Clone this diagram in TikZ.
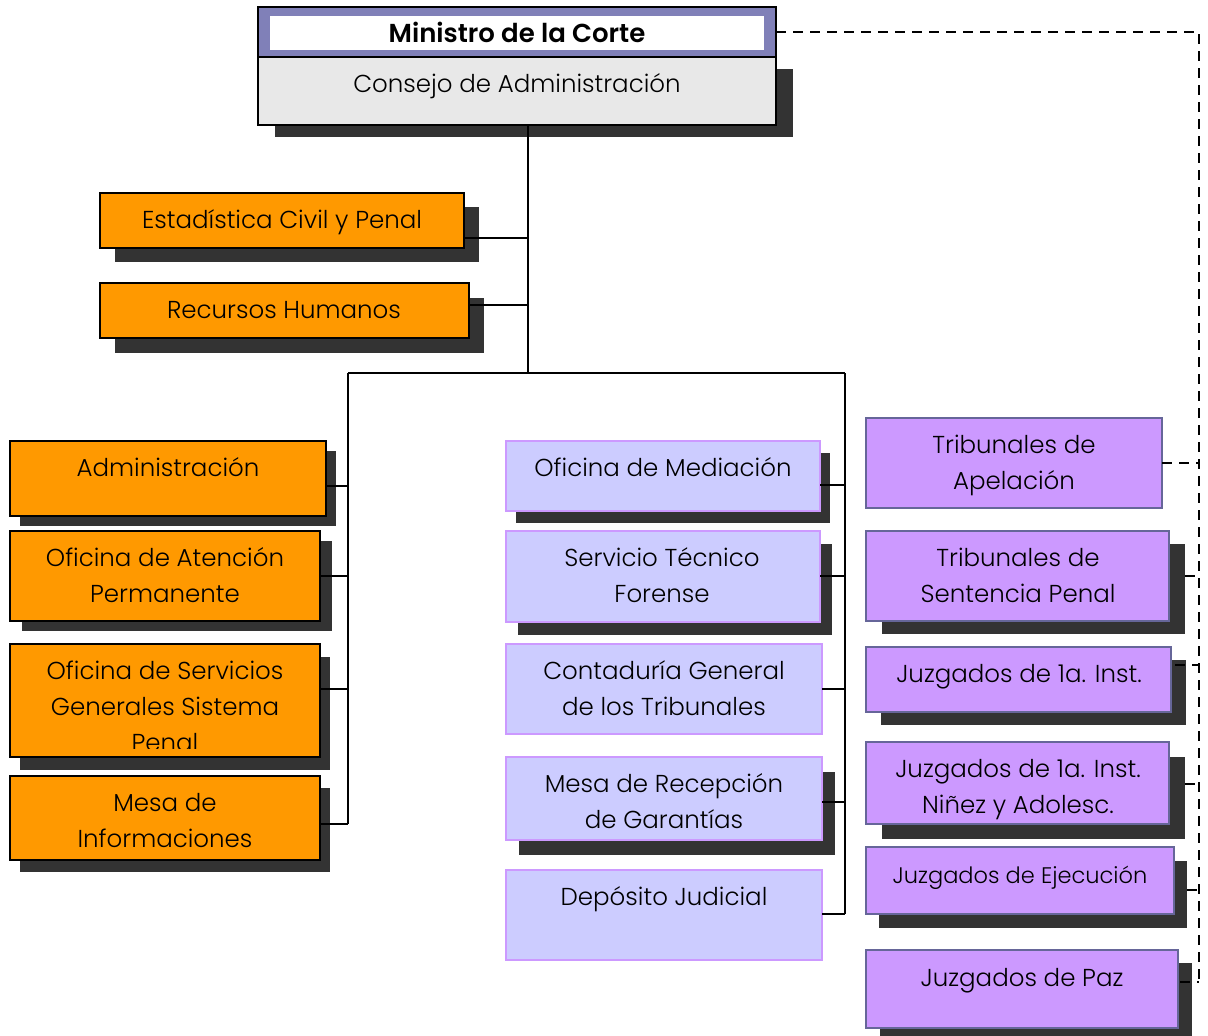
\documentclass[tikz,border=0pt]{standalone}
\usepackage{fontspec}
\setmainfont{Poppins}[UprightFont=* Light, BoldFont=* SemiBold]
\usetikzlibrary{shadows,calc}
\definecolor{org}{HTML}{FF9900}
\definecolor{lav}{HTML}{CCCCFF}
\definecolor{lavb}{HTML}{CC99FF}
\definecolor{pur}{HTML}{CC99FF}
\definecolor{purb}{HTML}{666699}
\definecolor{shc}{HTML}{333333}
\definecolor{band}{HTML}{8080B8}
\definecolor{cgrey}{HTML}{E8E8E8}
\newcommand{\lstrut}{\rule{0pt}{28pt}}
\tikzset{
  x=1pt, y=-1pt,
  box/.style={anchor=north west, inner sep=0pt, outer sep=0pt},
  obox/.style={box, fill=org, draw=black, line width=1.8pt},
  mbox/.style={box, fill=lav, draw=lavb, line width=1.6pt},
  pbox/.style={box, fill=pur, draw=purb, line width=1.6pt},
  shd/.style 2 args={drop shadow={shadow xshift=#1pt, shadow yshift=-#2pt, fill=shc, opacity=1, draw=none}},
  lbl/.style={font=\fontsize{24.5}{36}\selectfont, align=center, inner sep=0pt, anchor=north, text=black},
  conn/.style={draw=black, line width=1.4pt},
  dsh/.style={draw=black, line width=2.2pt, dash pattern=on 10pt off 7pt},
}
\begin{document}
\begin{tikzpicture}
\useasboundingbox (0,0) rectangle (1208,1036);
\fill[white] (0,0) rectangle (1208,1036);

% top box
\node[box, fill=cgrey, draw=black, line width=1.8pt, minimum width=518, minimum height=68, shd={17}{12}] (cons) at (258,57) {};
\node[box, fill=band, draw=black, line width=1.8pt, minimum width=518, minimum height=50] (mini) at (258,7) {};
\fill[white] ($(mini.north west)+(12,9)$) rectangle ($(mini.south east)+(-12,-7)$);
\node[lbl, font=\fontsize{26}{36}\selectfont\bfseries] (miniT) at (517,14) {\lstrut Ministro de la Corte};
\node[lbl] (consT) at (517,64) {\lstrut Consejo de Administración};

% orange upper
\node[obox, minimum width=364, minimum height=55, shd={15}{14}] (est) at (100,193) {};
\node[lbl] (estT) at (282,200) {\lstrut Estadística Civil y Penal};
\node[obox, minimum width=369, minimum height=55, shd={15}{15}] (rh) at (100,283) {};
\node[lbl] (rhT) at (284,290) {\lstrut Recursos Humanos};

% orange left column
\node[obox, minimum width=316, minimum height=75, shd={10}{10}] (adm) at (10,441) {};
\node[lbl] (admT) at (168,448) {\lstrut Administración};
\node[obox, minimum width=310, minimum height=90, shd={12}{10}] (ofa) at (10,531) {};
\node[lbl] (ofaT) at (165,538) {\lstrut Oficina de Atención\\Permanente};
\node[obox, minimum width=310, minimum height=113, shd={10}{13}] (ofs) at (10,644) {};
\begin{scope}
\clip (10,644) rectangle (320,748);
\node[lbl] (ofsT) at (165,651) {\lstrut Oficina de Servicios\\Generales Sistema\\Penal};
\end{scope}
\node[obox, minimum width=310, minimum height=84, shd={10}{12}] (mesa) at (10,776) {};
\node[lbl] (mesaT) at (165,783) {\lstrut Mesa de\\Informaciones};

% middle column
\node[mbox, minimum width=314, minimum height=70, shd={10}{12}] (med) at (506,441) {};
\node[lbl] (medT) at (663,448) {\lstrut Oficina de Mediación};
\node[mbox, minimum width=314, minimum height=91, shd={12}{13}] (stf) at (506,531) {};
\node[lbl] (stfT) at (662,538) {\lstrut Servicio Técnico\\Forense};
\node[mbox, minimum width=316, minimum height=90] (cont) at (506,644) {};
\node[lbl] (contT) at (664,651) {\lstrut Contaduría General\\de los Tribunales};
\node[mbox, minimum width=316, minimum height=83, shd={13}{15}] (mrg) at (506,757) {};
\node[lbl] (mrgT) at (664,764) {\lstrut Mesa de Recepción\\de Garantías};
\node[mbox, minimum width=316, minimum height=90] (dep) at (506,870) {};
\node[lbl] (depT) at (664,877) {\lstrut Depósito Judicial};

% right column
\node[pbox, minimum width=296, minimum height=90] (apel) at (866,418) {};
\node[lbl] (apelT) at (1014,425) {\lstrut Tribunales de\\Apelación};
\node[pbox, minimum width=303, minimum height=90, shd={16}{13}] (sent) at (866,531) {};
\node[lbl] (sentT) at (1018,538) {\lstrut Tribunales de\\Sentencia Penal};
\node[pbox, minimum width=305, minimum height=65, shd={15}{13}] (jpi) at (866,647) {};
\node[lbl] (jpiT) at (1019,654) {\lstrut Juzgados de 1a. Inst.};
\node[pbox, minimum width=303, minimum height=82, shd={16}{15}] (jna) at (866,742) {};
\node[lbl] (jnaT) at (1018,749) {\lstrut Juzgados de 1a. Inst.\\Niñez y Adolesc.};
\node[pbox, minimum width=308, minimum height=67, shd={13}{14}] (jej) at (866,847) {};
\node[lbl, font=\fontsize{22.5}{36}\selectfont] (jejT) at (1020,855) {\lstrut Juzgados de Ejecución};
\node[pbox, minimum width=312, minimum height=78, shd={14}{13}] (paz) at (866,950) {};
\node[lbl] (pazT) at (1022,958) {\lstrut Juzgados de Paz};

% solid connectors
\coordinate (bus) at (528,373);
\coordinate (lb) at (348,373);
\coordinate (rb) at (845,373);
\coordinate (e1) at (528,238);
\coordinate (e2) at (528,305);
\draw[conn] (bus |- cons.south) -- (bus);
\draw[conn] (lb) -- (rb);
\draw[conn] (est.east |- e1) -- (e1);
\draw[conn] (rh.east |- e2) -- (e2);

\coordinate (l1) at (348,486);
\coordinate (l2) at (348,576);
\coordinate (l3) at (348,689);
\coordinate (l4) at (348,824);
\draw[conn] (lb) -- (l4);
\draw[conn] (adm.east |- l1) -- (l1);
\draw[conn] (ofa.east |- l2) -- (l2);
\draw[conn] (ofs.east |- l3) -- (l3);
\draw[conn] (mesa.east |- l4) -- (l4);

\coordinate (m1) at (845,485);
\coordinate (m2) at (845,576);
\coordinate (m3) at (845,689);
\coordinate (m4) at (845,802);
\coordinate (m5) at (845,914);
\draw[conn] (rb) -- (m5);
\draw[conn] (med.east |- m1) -- (m1);
\draw[conn] (stf.east |- m2) -- (m2);
\draw[conn] (cont.east |- m3) -- (m3);
\draw[conn] (mrg.east |- m4) -- (m4);
\draw[conn] (dep.east |- m5) -- (m5);

% dashed connectors
\coordinate (d0) at (1199,32);
\coordinate (d1) at (1199,463);
\coordinate (d2) at (1199,576);
\coordinate (d3) at (1199,665);
\coordinate (d4) at (1199,784);
\coordinate (d5) at (1199,890);
\coordinate (d6) at (1199,982);
\draw[dsh] (mini.east |- d0) -- (d0) -- (d6);
\draw[dsh] (apel.east |- d1) -- (d1);
\draw[dsh] ($(sent.east |- d2)+(16,0)$) -- (d2);
\draw[dsh] ($(jpi.east |- d3)+(4,0)$) -- (d3);
\draw[dsh] ($(jna.east |- d4)+(16,0)$) -- (d4);
\draw[dsh] ($(jej.east |- d5)+(13,0)$) -- (d5);
\draw[dsh] ($(paz.east |- d6)+(2,0)$) -- (d6);
\end{tikzpicture}
\end{document}
